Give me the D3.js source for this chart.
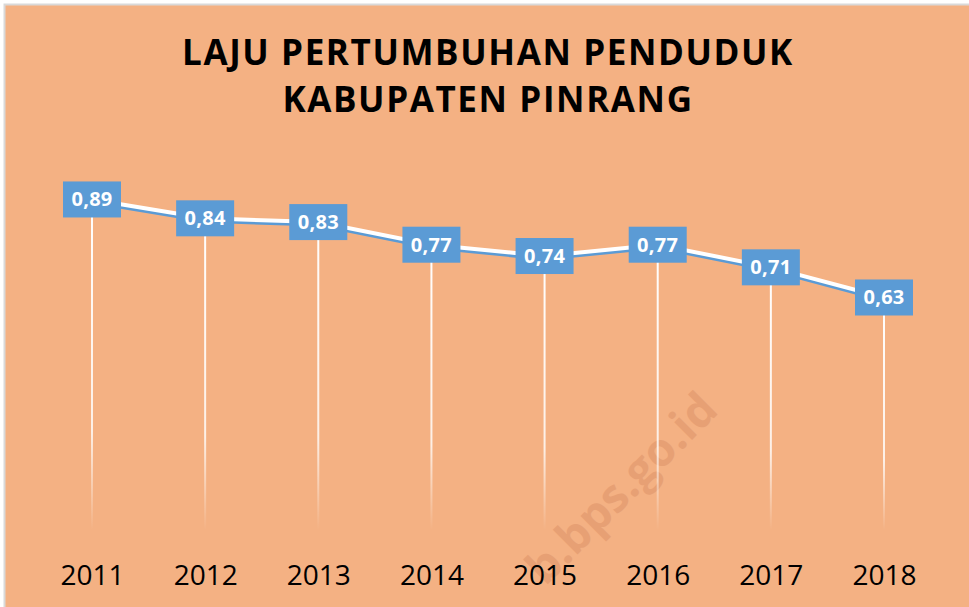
<!DOCTYPE html>
<html>
<head>
<meta charset="utf-8">
<script src="https://cdn.jsdelivr.net/npm/d3@7"></script>
<style>
  body { margin: 0; background: #ffffff; }
</style>
</head>
<body>
<div id="chart"></div>
<script>
// Data
var years = ["2011", "2012", "2013", "2014", "2015", "2016", "2017", "2018"];
var rates = [0.89, 0.84, 0.83, 0.77, 0.74, 0.77, 0.71, 0.63];
var titleLines = ["LAJU PERTUMBUHAN PENDUDUK", "KABUPATEN PINRANG"];

var svgWidth = 969;
var svgHeight = 607;

var svg = d3.select("#chart")
  .append("svg")
  .attr("width", svgWidth)
  .attr("height", svgHeight)
  .style("display", "block");

// Chart frame
svg.append("rect")
  .attr("x", 4.5).attr("y", 4.5)
  .attr("width", svgWidth).attr("height", svgHeight)
  .attr("fill", "#f4b183")
  .attr("stroke", "#d9d9d9")
  .attr("stroke-width", 2);

// gradient for the drop lines
var defs = svg.append("defs");
var grad = defs.append("linearGradient")
  .attr("id", "dropFade")
  .attr("x1", 0).attr("y1", 0).attr("x2", 0).attr("y2", 1);
grad.append("stop").attr("offset", "0%").attr("stop-color", "#ffffff").attr("stop-opacity", 1);
grad.append("stop").attr("offset", "70%").attr("stop-color", "#ffffff").attr("stop-opacity", 0.8);
grad.append("stop").attr("offset", "100%").attr("stop-color", "#ffffff").attr("stop-opacity", 0);

// Title
svg.append("g").selectAll("text")
  .data(titleLines)
  .enter()
  .append("text")
  .attr("x", 488)
  .attr("y", (d, i) => 65 + i * 47)
  .attr("text-anchor", "middle")
  .attr("font-family", "'Open Sans', sans-serif")
  .attr("font-weight", "700")
  .attr("font-size", "35px")
  .attr("letter-spacing", "1.6px")
  .attr("fill", "#000000")
  .text(d => d);

// Watermark
svg.append("text")
  .attr("transform", "translate(720,412) rotate(-45)")
  .attr("text-anchor", "end")
  .attr("font-family", "'Open Sans', sans-serif")
  .attr("font-weight", "700")
  .attr("font-size", "46px")
  .attr("fill", "#b5603c")
  .attr("opacity", 0.2)
  .text("b.bps.go.id");

// Scales
var xScale = d3.scalePoint()
  .domain(years)
  .range([92, 884]);

var yScale = d3.scaleLinear()
  .domain([0, 1])
  .range([535, 158]);

var plotBottom = 530;

// Drop lines
svg.append("g").selectAll("rect")
  .data(rates)
  .enter()
  .append("rect")
  .attr("x", (d, i) => xScale(years[i]) - 1)
  .attr("y", d => yScale(d))
  .attr("width", 2)
  .attr("height", d => plotBottom - yScale(d))
  .attr("fill", "url(#dropFade)");

// Line
var line = d3.line()
  .x((d, i) => xScale(years[i]))
  .y(d => yScale(d));

svg.append("path")
  .datum(rates)
  .attr("d", line)
  .attr("transform", "translate(0,2)")
  .attr("fill", "none")
  .attr("stroke", "#5b9bd5")
  .attr("stroke-width", 5);

svg.append("path")
  .datum(rates)
  .attr("d", line)
  .attr("fill", "none")
  .attr("stroke", "#ffffff")
  .attr("stroke-width", 4);

// Data labels
var labels = svg.append("g").selectAll("g")
  .data(rates)
  .enter()
  .append("g")
  .attr("transform", (d, i) => `translate(${xScale(years[i])},${yScale(d)})`);

labels.append("rect")
  .attr("x", -29).attr("y", -18)
  .attr("width", 58).attr("height", 36)
  .attr("fill", "#5b9bd5");

labels.append("text")
  .attr("y", 7)
  .attr("text-anchor", "middle")
  .attr("font-family", "'Open Sans', sans-serif")
  .attr("font-weight", "700")
  .attr("font-size", "20px")
  .attr("letter-spacing", "0.3px")
  .attr("fill", "#ffffff")
  .text(d => d.toFixed(2).replace(".", ","));

// X axis labels
var xAxis = d3.axisBottom(xScale).tickSize(0).tickPadding(0);
var axisG = svg.append("g")
  .attr("transform", "translate(0,585)")
  .call(xAxis);
axisG.select(".domain").remove();
axisG.selectAll("text")
  .attr("y", 0)
  .attr("dy", "0")
  .attr("font-family", "'Open Sans', sans-serif")
  .attr("font-size", "28px")
  .attr("fill", "#000000");
</script>
</body>
</html>
